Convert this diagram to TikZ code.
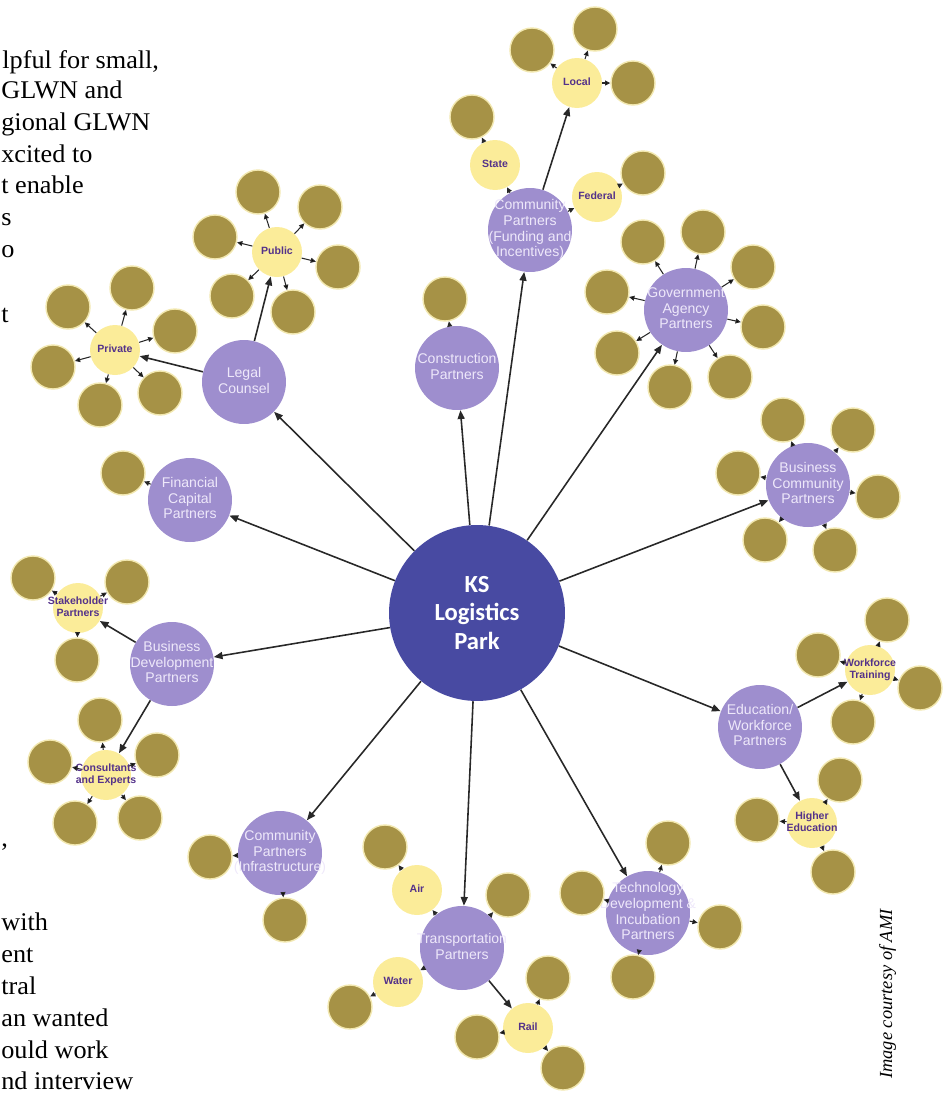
\documentclass[tikz,border=0pt]{standalone}
\usepackage{fontspec}
\setmainfont{Liberation Serif}
\setsansfont{Liberation Sans}
\newfontfamily\hubfont{Carlito}
\newfontfamily\pagefont{Liberation Serif}[FakeStretch=1.03]
\usepackage{xcolor}
\usepackage{tikz}
\usetikzlibrary{arrows.meta}

\definecolor{hubblue}{RGB}{72,74,162}
\definecolor{lavender}{RGB}{158,142,206}
\definecolor{lavtext}{RGB}{238,232,250}
\definecolor{paleyellow}{RGB}{251,236,153}
\definecolor{plumtext}{RGB}{84,50,138}
\definecolor{olive}{RGB}{166,146,70}
\definecolor{oliverim}{RGB}{242,232,176}
\definecolor{linkgray}{RGB}{40,40,40}

% centred label that does not widen its circle
\newcommand{\inlabel}[1]{\makebox[0pt]{\begin{tabular}{@{}c@{}}#1\end{tabular}}}

\begin{document}
\begin{tikzpicture}[
  x=0.02cm, y=-0.02cm,
  hub/.style={circle, fill=hubblue, minimum size=3.52cm, inner sep=0pt, text=white, align=center,
    font=\hubfont\bfseries\fontsize{14}{16}\selectfont},
  partner/.style={circle, fill=lavender, minimum size=1.68cm, inner sep=0pt, text=lavtext,
    font=\sffamily\fontsize{8}{9}\selectfont},
  branch/.style={circle, fill=paleyellow, minimum size=1cm, inner sep=0pt, text=plumtext,
    font=\sffamily\bfseries\fontsize{6}{7}\selectfont},
  leaf/.style={circle, fill=olive, draw=oliverim, line width=0.8pt, minimum size=0.88cm, inner sep=0pt},
  spoke/.style={-{Triangle[length=5pt,width=4pt]}, line width=0.9pt, draw=linkgray},
  twig/.style={-{Triangle[length=3pt,width=2.8pt]}, line width=0.6pt, draw=linkgray},
  bodytext/.style={anchor=base west, inner sep=0pt, font=\pagefont\fontsize{14.5}{18}\selectfont},
  credit/.style={rotate=90, anchor=base, inner sep=0pt, font=\itshape\fontsize{10.5}{12}\selectfont}
]
\useasboundingbox (0,0) rectangle (946,1093);
\clip (0,0) rectangle (946,1093);

% page text running beside the figure
\node[bodytext] (p1) at (2,68) {lpful for small,};
\node[bodytext] (p2) at (1,98) {GLWN and};
\node[bodytext] (p3) at (1,130) {gional GLWN};
\node[bodytext] (p4) at (1,162) {xcited to};
\node[bodytext] (p5) at (1,193) {t enable};
\node[bodytext] (p6) at (1,225) {s};
\node[bodytext] (p7) at (1,257) {o};
\node[bodytext] (p8) at (1,322) {t};
\node[bodytext] (p9) at (1,846) {,};
\node[bodytext] (p10) at (1,930) {with};
\node[bodytext] (p11) at (1,962) {ent};
\node[bodytext] (p12) at (1,994) {tral};
\node[bodytext] (p13) at (1,1026) {an wanted};
\node[bodytext] (p14) at (1,1058) {ould work};
\node[bodytext] (p15) at (1,1089) {nd interview};
\node[credit] (credit) at (892,994) {Image courtesy of AMI};

% hub and first ring
\node[hub] (ks) at (477,613) {KS\\Logistics\\Park};
\node[partner] (legal) at (244,382) {\inlabel{Legal\\Counsel}};
\node[partner] (build) at (457,368) {\inlabel{Construction\\Partners}};
\node[partner] (funding) at (530,230) {\inlabel{Community\\Partners\\(Funding and\\Incentives)}};
\node[partner] (govt) at (686,310) {\inlabel{Government\\Agency\\Partners}};
\node[partner] (bizcomm) at (808,485) {\inlabel{Business\\Community\\Partners}};
\node[partner] (edu) at (760,727) {\inlabel{Education/\\Workforce\\Partners}};
\node[partner] (tech) at (648,913) {\inlabel{Technology\\Development \&\\Incubation\\Partners}};
\node[partner] (transport) at (462,948) {\inlabel{Transportation\\Partners}};
\node[partner] (infra) at (280,853) {\inlabel{Community\\Partners\\(Infrastructure)}};
\node[partner] (bizdev) at (172,664) {\inlabel{Business\\Development\\Partners}};
\node[partner] (finance) at (190,500) {\inlabel{Financial\\Capital\\Partners}};

% second ring
\node[branch] (private) at (115,350) {\inlabel{Private}};
\node[branch] (public) at (277,252) {\inlabel{Public}};
\node[branch] (local) at (577,83) {\inlabel{Local}};
\node[branch] (state) at (495,165) {\inlabel{State}};
\node[branch] (federal) at (597,197) {\inlabel{Federal}};
\node[branch] (stake) at (78,608) {\inlabel{Stakeholder\\Partners}};
\node[branch] (consult) at (106,775) {\inlabel{Consultants\\and Experts}};
\node[branch] (training) at (870,670) {\inlabel{Workforce\\Training}};
\node[branch] (higher) at (812,823) {\inlabel{Higher\\Education}};
\node[branch] (air) at (417,890) {\inlabel{Air}};
\node[branch] (water) at (398,982) {\inlabel{Water}};
\node[branch] (rail) at (528,1028) {\inlabel{Rail}};

% outer circles
\node[leaf] (private-1) at (68,307) {};
\node[leaf] (private-2) at (132,288) {};
\node[leaf] (private-3) at (175,331) {};
\node[leaf] (private-4) at (53,367) {};
\node[leaf] (private-5) at (100,405) {};
\node[leaf] (private-6) at (160,393) {};
\node[leaf] (public-1) at (258,192) {};
\node[leaf] (public-2) at (320,207) {};
\node[leaf] (public-3) at (215,237) {};
\node[leaf] (public-4) at (338,267) {};
\node[leaf] (public-5) at (232,296) {};
\node[leaf] (public-6) at (293,312) {};
\node[leaf] (local-1) at (532,50) {};
\node[leaf] (local-2) at (595,29) {};
\node[leaf] (local-3) at (633,83) {};
\node[leaf] (state-1) at (472,117) {};
\node[leaf] (federal-1) at (643,173) {};
\node[leaf] (build-1) at (445,299) {};
\node[leaf] (govt-1) at (643,242) {};
\node[leaf] (govt-2) at (703,232) {};
\node[leaf] (govt-3) at (753,267) {};
\node[leaf] (govt-4) at (763,327) {};
\node[leaf] (govt-5) at (730,377) {};
\node[leaf] (govt-6) at (670,387) {};
\node[leaf] (govt-7) at (617,353) {};
\node[leaf] (govt-8) at (607,292) {};
\node[leaf] (bizcomm-1) at (783,420) {};
\node[leaf] (bizcomm-2) at (853,430) {};
\node[leaf] (bizcomm-3) at (878,497) {};
\node[leaf] (bizcomm-4) at (835,550) {};
\node[leaf] (bizcomm-5) at (765,540) {};
\node[leaf] (bizcomm-6) at (738,473) {};
\node[leaf] (finance-1) at (123,473) {};
\node[leaf] (stake-1) at (33,578) {};
\node[leaf] (stake-2) at (127,582) {};
\node[leaf] (stake-3) at (77,660) {};
\node[leaf] (consult-1) at (100,720) {};
\node[leaf] (consult-2) at (50,762) {};
\node[leaf] (consult-3) at (157,755) {};
\node[leaf] (consult-4) at (75,823) {};
\node[leaf] (consult-5) at (140,818) {};
\node[leaf] (training-1) at (887,620) {};
\node[leaf] (training-2) at (818,655) {};
\node[leaf] (training-3) at (920,688) {};
\node[leaf] (training-4) at (853,722) {};
\node[leaf] (higher-1) at (840,780) {};
\node[leaf] (higher-2) at (757,820) {};
\node[leaf] (higher-3) at (833,872) {};
\node[leaf] (tech-1) at (668,843) {};
\node[leaf] (tech-2) at (582,893) {};
\node[leaf] (tech-3) at (720,927) {};
\node[leaf] (tech-4) at (633,977) {};
\node[leaf] (transport-1) at (508,895) {};
\node[leaf] (air-1) at (385,847) {};
\node[leaf] (water-1) at (350,1007) {};
\node[leaf] (rail-1) at (548,978) {};
\node[leaf] (rail-2) at (477,1037) {};
\node[leaf] (rail-3) at (563,1068) {};
\node[leaf] (infra-1) at (210,857) {};
\node[leaf] (infra-2) at (285,920) {};

% spokes from the hub
\draw[spoke] (ks) -- (legal);
\draw[spoke] (ks) -- (build);
\draw[spoke] (ks) -- (funding);
\draw[spoke] (ks) -- (govt);
\draw[spoke] (ks) -- (bizcomm);
\draw[spoke] (ks) -- (edu);
\draw[spoke] (ks) -- (tech);
\draw[spoke] (ks) -- (transport);
\draw[spoke] (ks) -- (infra);
\draw[spoke] (ks) -- (bizdev);
\draw[spoke] (ks) -- (finance);

\draw[spoke] (legal) -- (private);
\draw[spoke] (legal) -- (public);
\draw[spoke] (funding) -- (local);
\draw[twig] (funding) -- (state);
\draw[twig] (funding) -- (federal);
\draw[spoke] (bizdev) -- (stake);
\draw[spoke] (bizdev) -- (consult);
\draw[spoke] (edu) -- (training);
\draw[spoke] (edu) -- (higher);
\draw[twig] (transport) -- (air);
\draw[twig] (transport) -- (water);
\draw[spoke] (transport) -- (rail);

% short links to the outer circles
\draw[twig] (private) edge (private-1) edge (private-2) edge (private-3)
  edge (private-4) edge (private-5) edge (private-6);
\draw[twig] (public) edge (public-1) edge (public-2) edge (public-3)
  edge (public-4) edge (public-5) edge (public-6);
\draw[twig] (local) edge (local-1) edge (local-2) edge (local-3);
\draw[twig] (state) -- (state-1);
\draw[twig] (federal) -- (federal-1);
\draw[twig] (build) -- (build-1);
\draw[twig] (govt) edge (govt-1) edge (govt-2) edge (govt-3) edge (govt-4)
  edge (govt-5) edge (govt-6) edge (govt-7) edge (govt-8);
\draw[twig] (bizcomm) edge (bizcomm-1) edge (bizcomm-2) edge (bizcomm-3)
  edge (bizcomm-4) edge (bizcomm-5) edge (bizcomm-6);
\draw[twig] (finance) -- (finance-1);
\draw[twig] (stake) edge (stake-1) edge (stake-2) edge (stake-3);
\draw[twig] (consult) edge (consult-1) edge (consult-2) edge (consult-3)
  edge (consult-4) edge (consult-5);
\draw[twig] (training) edge (training-1) edge (training-2) edge (training-3) edge (training-4);
\draw[twig] (higher) edge (higher-1) edge (higher-2) edge (higher-3);
\draw[twig] (tech) edge (tech-1) edge (tech-2) edge (tech-3) edge (tech-4);
\draw[twig] (transport) -- (transport-1);
\draw[twig] (air) -- (air-1);
\draw[twig] (water) -- (water-1);
\draw[twig] (rail) edge (rail-1) edge (rail-2) edge (rail-3);
\draw[twig] (infra) edge (infra-1) edge (infra-2);
\end{tikzpicture}
\end{document}
